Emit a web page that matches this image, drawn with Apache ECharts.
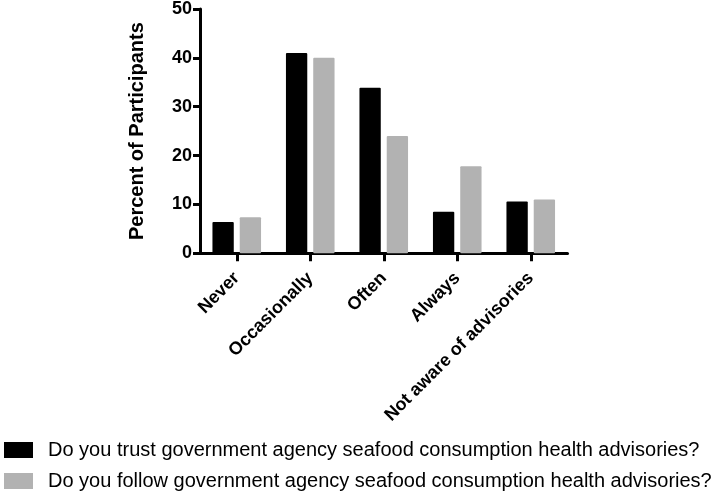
<!DOCTYPE html>
<html><head><meta charset="utf-8">
<script src="https://cdn.jsdelivr.net/npm/echarts@6/dist/echarts.min.js"></script>
<style>html,body{margin:0;padding:0;background:#fff}#c{width:717px;height:495px}</style>
</head><body><div id="c"></div>
<script>
const categories = ["Never", "Occasionally", "Often", "Always", "Not aware of advisories"];
const trustValues = [6.4, 41.0, 33.9, 8.5, 10.6];
const followValues = [7.4, 40.0, 24.0, 17.8, 11.0];
const seriesNames = [
  "Do you trust government agency seafood consumption health advisories?",
  "Do you follow government agency seafood consumption health advisories?"
];
const yTicks = [0, 10, 20, 30, 40, 50];

const legendText = {fontFamily: 'Liberation Sans, Arial, sans-serif', fontSize: 20, lineHeight: 20, color: '#000', padding: [0, 0, 0, 10]};
const chart = echarts.init(document.getElementById('c'), null, {renderer: 'canvas'});
chart.setOption({
  animation: false,
  textStyle: {fontFamily: 'Liberation Sans, Arial, sans-serif'},
  grid: {left: 200, right: 149.5, top: 7.3, bottom: 241.7, containLabel: false},
  legend: [
    {left: 4, top: 440, padding: 0, itemWidth: 29, itemHeight: 16, icon: 'rect',
     textStyle: legendText, data: [seriesNames[0]]},
    {left: 4, top: 471, padding: 0, itemWidth: 29, itemHeight: 16, icon: 'rect',
     textStyle: legendText, data: [seriesNames[1]]}
  ],
  xAxis: {
    type: 'category', data: categories,
    axisLine: {lineStyle: {color: '#000', width: 3}},
    axisTick: {show: true, alignWithLabel: true, length: 8, lineStyle: {color: '#000', width: 3}},
    axisLabel: {rotate: 45, color: '#000', fontWeight: 'bold', fontSize: 18, margin: 22, interval: 0}
  },
  yAxis: {
    type: 'value', min: yTicks[0], max: yTicks[yTicks.length-1], interval: 10,
    name: 'Percent of Participants', nameLocation: 'middle', nameGap: 53,
    nameTextStyle: {color: '#000', fontWeight: 'bold', fontSize: 20},
    axisLine: {show: true, lineStyle: {color: '#000', width: 3}},
    axisTick: {show: true, length: 7, lineStyle: {color: '#000', width: 3}},
    axisLabel: {color: '#000', fontWeight: 'bold', fontSize: 18, margin: 8},
    splitLine: {show: false}
  },
  series: [
    {name: seriesNames[0], type: 'bar', data: trustValues, barWidth: '29%', barGap: '28%',
     itemStyle: {color: '#000', borderRadius: 1}},
    {name: seriesNames[1], type: 'bar', data: followValues, barWidth: '29%',
     itemStyle: {color: '#b2b2b2', borderRadius: 1}}
  ]
});
</script></body></html>
